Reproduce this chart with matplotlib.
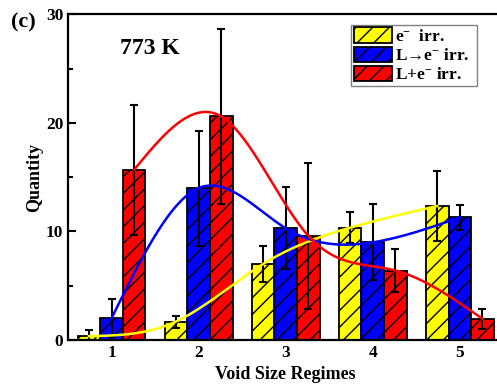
import numpy as np
import matplotlib.pyplot as plt
from matplotlib.patches import Patch

plt.rcParams['font.family'] = ['Liberation Serif', 'DejaVu Serif']
plt.rcParams['font.weight'] = 'bold'
plt.rcParams['mathtext.fontset'] = 'custom'
plt.rcParams['mathtext.rm'] = 'Liberation Serif:bold'
plt.rcParams['mathtext.bf'] = 'Liberation Serif:bold'
plt.rcParams['mathtext.default'] = 'bf'
plt.rcParams['hatch.linewidth'] = 1.0

regimes = [1, 2, 3, 4, 5]
e_irr = [0.35, 1.7, 7.0, 10.35, 12.35]
e_irr_err = [0.55, 0.55, 1.7, 1.4, 3.2]
l_to_e = [2.0, 14.0, 10.3, 9.0, 11.3]
l_to_e_err = [1.75, 5.3, 3.8, 3.5, 1.15]
l_plus_e = [15.7, 20.6, 9.6, 6.4, 1.95]
l_plus_e_err = [6.0, 8.1, 6.7, 2.0, 0.95]

labels = ["e$^{-}$  irr.   ", "L\u2192e$^{-}$ irr.  ", "L+e$^{-}$ irr.  "]
colors = ["#ffff00", "#0000ff", "#ff0000"]


def natural_spline(x, y, xs):
    # plain natural cubic spline, no scipy needed
    x = np.asarray(x, float)
    y = np.asarray(y, float)
    n = len(x)
    h = np.diff(x)
    A = np.zeros((n, n))
    b = np.zeros(n)
    A[0, 0] = 1
    A[-1, -1] = 1
    for i in range(1, n - 1):
        A[i, i - 1] = h[i - 1]
        A[i, i] = 2 * (h[i - 1] + h[i])
        A[i, i + 1] = h[i]
        b[i] = 3 * ((y[i + 1] - y[i]) / h[i] - (y[i] - y[i - 1]) / h[i - 1])
    c = np.linalg.solve(A, b)
    out = np.zeros_like(xs)
    for j, xv in enumerate(xs):
        i = min(max(np.searchsorted(x, xv) - 1, 0), n - 2)
        d = xv - x[i]
        bb = (y[i + 1] - y[i]) / h[i] - h[i] * (2 * c[i] + c[i + 1]) / 3
        dd = (c[i + 1] - c[i]) / (3 * h[i])
        out[j] = y[i] + bb * d + c[i] * d ** 2 + dd * d ** 3
    return out


fig = plt.figure(figsize=(4.97, 3.89), dpi=100)
ax = fig.add_axes([0.1368, 0.126, 0.876, 0.8368])

w = 0.26
x = np.array(regimes, float)
series = [(e_irr, e_irr_err), (l_to_e, l_to_e_err), (l_plus_e, l_plus_e_err)]
for k, (vals, errs) in enumerate(series):
    pos = x + (k - 1) * w
    ax.bar(pos, vals, width=w, color=colors[k], edgecolor="black",
           linewidth=1.3, hatch="//", zorder=2)
    ax.errorbar(pos, vals, yerr=errs, fmt="none", ecolor="black",
                elinewidth=1.5, capsize=3, capthick=1.5, zorder=3)

for k, (vals, errs) in enumerate(series):
    pos = x + (k - 1) * w
    xs = np.linspace(pos[0], pos[-1], 300)
    ax.plot(xs, natural_spline(pos, vals, xs), color=colors[k],
            linewidth=1.8, zorder=4)

ax.set_xlim(0.5, 5.5)
ax.set_ylim(0, 30)
ax.set_xticks(regimes)
ax.set_yticks([0, 10, 20, 30])
ax.set_yticks([5, 15, 25], minor=True)
ax.tick_params(axis="both", which="major", direction="in", length=6, width=1.5,
               labelsize=12.5)
ax.tick_params(axis="y", which="minor", direction="in", length=3.5, width=1.5)
for s in ax.spines.values():
    s.set_linewidth(1.6)

ax.set_xlabel("Void Size Regimes", fontsize=13, fontweight="bold", labelpad=4)
ax.set_ylabel("Quantity", fontsize=13, fontweight="bold", labelpad=2)
ax.text(0.12, 0.88, "773 K", transform=ax.transAxes, fontsize=17,
        fontweight="bold")
fig.text(0.022, 0.93, "(c)", fontsize=16, fontweight="bold")

handles = [Patch(facecolor=colors[k], edgecolor="black", hatch="//",
                 linewidth=1.3) for k in range(3)]
leg = ax.legend(handles, labels, loc="upper right",
                bbox_to_anchor=(0.939, 0.968), borderaxespad=0,
                fancybox=False, framealpha=1, edgecolor="gray",
                fontsize=12.5, handlelength=2.2, handleheight=1.0,
                labelspacing=0.08, handletextpad=0.15, borderpad=0.15)
leg.get_frame().set_linewidth(1.0)

fig.savefig("out.png", dpi=100)
